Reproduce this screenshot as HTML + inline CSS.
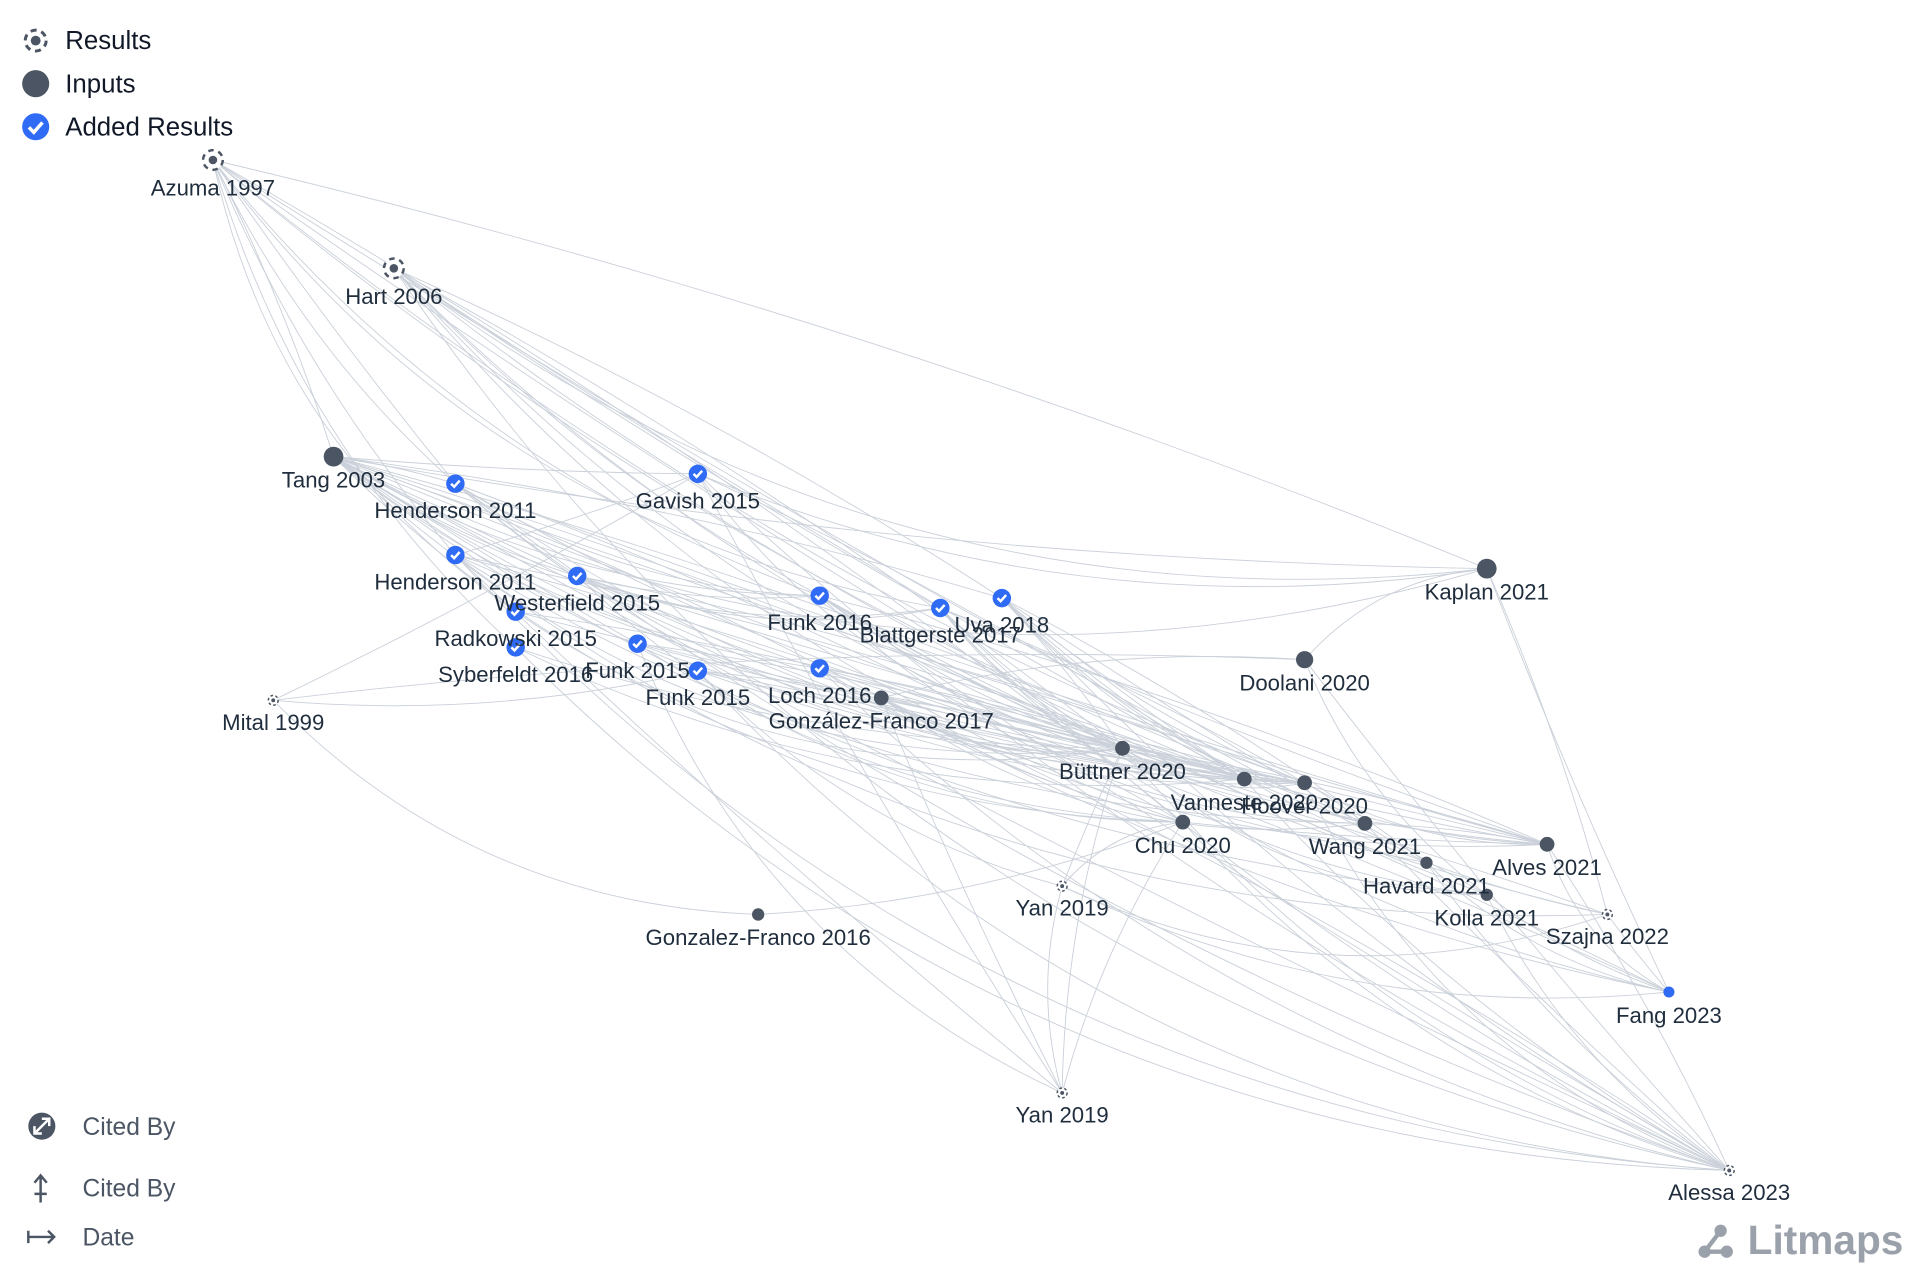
<!DOCTYPE html>
<html><head><meta charset="utf-8"><style>
html,body{margin:0;padding:0;background:#fff;width:1920px;height:1280px;overflow:hidden}
svg{display:block}
text{font-family:"Liberation Sans",sans-serif}
</style></head><body>
<svg id="s" width="1920" height="1280" viewBox="0 0 1560 1040" xmlns="http://www.w3.org/2000/svg">
<g id="edges" fill="none" stroke="#cbd1da" stroke-width="0.75"></g>
<g id="nodes"></g>
<g id="labels" font-size="18" fill="#1f2d3d" text-anchor="middle"></g>
<g font-size="21" fill="#111827" font-weight="500">
<circle cx="29" cy="33" r="8.5" fill="none" stroke="#4b5563" stroke-width="2.4" stroke-dasharray="5 3.9"/><circle cx="29" cy="33" r="4" fill="#4b5563"/>
<text x="53" y="40">Results</text>
<circle cx="29" cy="68" r="11" fill="#4b5563"/><text x="53" y="75">Inputs</text>
<circle cx="29" cy="103" r="11" fill="#2f6bf5"/><path d="M23.5 103.5l4 4 7-8" stroke="#fff" stroke-width="2.8" fill="none"/>
<text x="53" y="110">Added Results</text>
</g>
<g font-size="20" fill="#4b5563">
<circle cx="34" cy="915" r="11" fill="#4b5563"/><path d="M28 921l12-12M34 909h6v6M28 915v6h6" stroke="#fff" stroke-width="2" fill="none"/>
<text x="67" y="922">Cited By</text>
<path d="M33 955v22M28 961l5-6 5 6M28 970h10" stroke="#4b5563" stroke-width="2" fill="none"/>
<text x="67" y="972">Cited By</text>
<path d="M22 1005h22M39 1000l5 5-5 5M23 1000v10" stroke="#4b5563" stroke-width="2" fill="none"/>
<text x="67" y="1012">Date</text>
</g>
<g fill="#9aa1aa">
<circle cx="1385" cy="1017" r="5"/><circle cx="1403" cy="1017" r="5"/><circle cx="1398" cy="1000" r="5"/>
<path d="M1385 1017L1398 1000M1385 1017H1403" stroke="#9aa1aa" stroke-width="3.5"/>
<text x="1420" y="1019" font-family="Liberation Serif,serif" font-size="33" font-weight="bold">Litmaps</text>
</g>
</svg>
<script>
var N={
az:[173,130,'R','Azuma 1997'],ha:[320,218,'R','Hart 2006'],mi:[222,569,'r','Mital 1999'],y1:[863,720,'r','Yan 2019'],y2:[863,888,'r','Yan 2019'],sz:[1306,743,'r','Szajna 2022'],al:[1405,951,'r','Alessa 2023'],
ta:[271,371,'I8','Tang 2003'],ka:[1208,462,'I8','Kaplan 2021'],do:[1060,536,'I7','Doolani 2020'],gf7:[716,567,'I6','González-Franco 2017'],bu:[912,608,'I6','Büttner 2020'],va:[1011,633,'I6','Vanneste 2020'],ho:[1060,636,'I6','Hoover 2020'],ch:[961,668,'I6','Chu 2020'],wa:[1109,669,'I6','Wang 2021'],hv:[1159,701,'I5','Havard 2021'],ko:[1208,727,'I5','Kolla 2021'],av:[1257,686,'I6','Alves 2021'],gf6:[616,743,'I5','Gonzalez-Franco 2016'],
h1:[370,393,'A','Henderson 2011'],ga:[567,385,'A','Gavish 2015'],h2:[370,451,'A','Henderson 2011'],we:[469,468,'A','Westerfield 2015'],ra:[419,497,'A','Radkowski 2015'],sy:[419,526,'A','Syberfeldt 2016'],f1:[518,523,'A','Funk 2015'],f2:[567,545,'A','Funk 2015'],f6:[666,484,'A','Funk 2016'],bl:[764,494,'A','Blattgerste 2017'],uv:[814,486,'A','Uva 2018'],lo:[666,543,'A','Loch 2016'],fa:[1356,806,'a','Fang 2023']};
var E="az-ta az-h1 az-h2 az-sy az-ra az-ka az-bu az-va az-f6 az-bl az-ch az-hv az-ko az-we ha-ka ha-bu ha-va ha-ho ha-wa ha-av ha-uv ha-bl ha-f6 ha-ch ha-al ta-h1 ta-ga ta-we ta-f6 ta-bl ta-uv ta-bu ta-va ta-ho ta-ch ta-wa ta-av ta-hv ta-ko ta-ka ta-gf7 ta-f1 ta-f2 ta-lo ta-sz ta-fa ta-al h1-bu h1-va h1-ho h1-ch h1-av h1-al h1-f6 h2-bu h2-va h2-ga h2-ho h2-wa h2-al h2-fa h2-y2 we-bu we-va we-ch we-ho we-av we-f6 we-bl ra-bu ra-va ra-ho sy-bu sy-va sy-al f1-bu f1-va f1-ho f1-ch f1-y2 f2-bu f2-va f2-ho f2-y1 f2-al f2-sz f6-bu f6-va f6-ho f6-wa f6-av f6-al f6-sz bl-bu bl-va bl-ho bl-av bl-al bl-fa bl-ko uv-bu uv-va uv-ho uv-wa uv-av uv-hv uv-ko uv-al uv-sz lo-bu lo-va lo-ho lo-ch lo-al gf7-bu gf7-va gf7-ho gf7-ch gf7-av gf7-wa gf7-al gf7-y2 gf7-fa bu-va bu-ho bu-av bu-y1 bu-y2 bu-al bu-ko va-ho va-av va-al ho-av ho-al ho-wa ch-av ch-y2 ch-al ch-y1 wa-av wa-al hv-al ko-al ka-do ka-sz ka-fa do-gf7 do-ko mi-gf6 mi-do mi-ga gf6-ch ga-ka ga-bu ga-va ga-y2 ga-al y1-fa y1-sz ka-ta sz-fa ko-fa hv-fa av-fa av-al do-al mi-f2 y1-y2";
var g=document.getElementById('edges'),h='';
E.split(' ').forEach(function(e,i){var p=e.split('-'),a=N[p[0]],b=N[p[1]];if(!a||!b)return;
var mx=(a[0]+b[0])/2,my=(a[1]+b[1])/2,dx=b[0]-a[0],dy=b[1]-a[1],k=((i%5)-2)*0.06+0.08;
h+='<path d="M'+a[0]+' '+a[1]+'Q'+(mx-dy*k)+' '+(my+dx*k)+' '+b[0]+' '+b[1]+'"/>';});
g.innerHTML=h;
var n='',l='';
for(var k in N){var d=N[k],x=d[0],y=d[1],t=d[2];
if(t=='R'){n+='<circle cx="'+x+'" cy="'+y+'" r="8" fill="#fff" stroke="#4b5563" stroke-width="2" stroke-dasharray="4.5 3.9"/><circle cx="'+x+'" cy="'+y+'" r="3.5" fill="#4b5563"/>';}
else if(t=='r'){n+='<circle cx="'+x+'" cy="'+y+'" r="4" fill="#fff" stroke="#4b5563" stroke-width="1.2" stroke-dasharray="2.2 1.9"/><circle cx="'+x+'" cy="'+y+'" r="1.6" fill="#4b5563"/>';}
else if(t[0]=='I'){n+='<circle cx="'+x+'" cy="'+y+'" r="'+t.slice(1)+'" fill="#4b5563"/>';}
else if(t=='A'){n+='<circle cx="'+x+'" cy="'+y+'" r="7.5" fill="#2f6bf5"/><path d="M'+(x-3.5)+' '+y+'l2.5 2.5 4.5-5" stroke="#fff" stroke-width="2" fill="none"/>';}
else {n+='<circle cx="'+x+'" cy="'+y+'" r="4.5" fill="#2f6bf5"/>';}
var oy=(t=='A'?28:(t=='R'?29:(t=='r'?24:25)));
l+='<text x="'+x+'" y="'+(y+oy)+'">'+d[3]+'</text>';}
document.getElementById('nodes').innerHTML=n;document.getElementById('labels').innerHTML=l;
</script>
</body></html>
